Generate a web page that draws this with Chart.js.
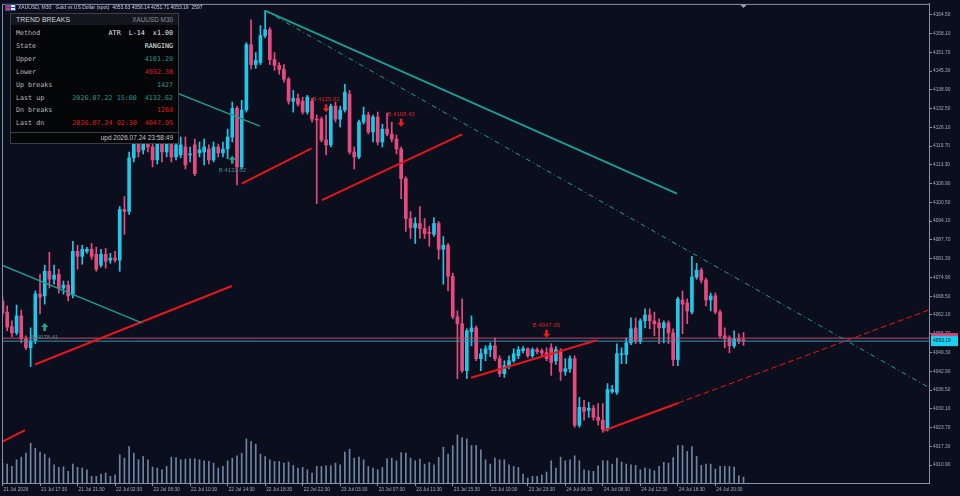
<!DOCTYPE html>
<html>
<head>
<meta charset="utf-8">
<script src="https://cdn.jsdelivr.net/npm/chart.js@4.4.1/dist/chart.umd.min.js"></script>
<style>
html, body { margin: 0; padding: 0; background: #0b0f1d; }
#wrap { position: relative; width: 960px; height: 496px; overflow: hidden; }
canvas { display: block; }
#panel { position: absolute; left: 10px; top: 13px; width: 167px; height: 129px; background: #040507; border: 1px solid #3a3e46; font-family: 'DejaVu Sans Mono', monospace; font-size: 6.7px; color: #b3b7be; }
#panel .ttl { position: absolute; left: 0; right: 0; top: 0; height: 11px; background: #13161d; font-family: 'Liberation Sans', sans-serif; }
#panel .ttl .l { position: absolute; left: 5px; top: 1px; font-size: 6.8px; line-height: 10px; color: #d6d8dc; letter-spacing: 0.1px; }
#panel .ttl .r { position: absolute; right: 5px; top: 1px; font-size: 6.4px; line-height: 10px; color: #8d929a; }
#panel .row { position: absolute; left: 5px; right: 5px; height: 10px; line-height: 10px; white-space: pre; }
#panel .row .v { position: absolute; right: 0; top: 0; }
#panel .sep { position: absolute; left: 0; right: 0; top: 118px; height: 1px; background: #3a3e46; }
#panel .upd { position: absolute; right: 5px; top: 119px; font-family: 'Liberation Sans', sans-serif; font-size: 6.5px; line-height: 10px; color: #c3c6cc; }
.w { color: #eceef1; }
.t { color: #1f9d8e; }
.r { color: #e01c1c; }
</style>
</head>
<body>
<div id="wrap">
<canvas id="c" width="960" height="496"></canvas>
<div id="panel">
  <div class="ttl"><span class="l">TREND BREAKS</span><span class="r">XAUUSD M30</span></div>
  <div class="row" style="top:14px">Method<span class="v w">ATR  L-14  x1.00</span></div>
  <div class="row" style="top:27px">State<span class="v w">RANGING</span></div>
  <div class="row" style="top:40px">Upper<span class="v t">4101.29</span></div>
  <div class="row" style="top:53px">Lower<span class="v r">4032.38</span></div>
  <div class="row" style="top:66px">Up breaks<span class="v t">1427</span></div>
  <div class="row" style="top:79px">Last up<span class="v t">2026.07.22 15:00  4132.62</span></div>
  <div class="row" style="top:91px">Dn breaks<span class="v r">1269</span></div>
  <div class="row" style="top:104px">Last dn<span class="v r">2026.07.24 02:30  4047.05</span></div>
  <div class="sep"></div>
  <div class="upd">upd 2026.07.24 23:58:49</div>
</div>
</div>
<script>
// XAUUSD M30 candles
const opens = [
  4066.9, 4063.1, 4058.1, 4056.0, 4061.8, 4054.0, 4050.9, 4053.3, 4069.2, 4068.6,
  4077.0, 4074.3, 4076.0, 4071.3, 4072.3, 4068.9, 4083.8, 4082.1, 4083.8, 4084.5,
  4082.8, 4079.1, 4082.8, 4080.8, 4081.5, 4080.8, 4098.1, 4097.4, 4115.7, 4121.1,
  4118.4, 4122.8, 4119.4, 4115.0, 4121.1, 4117.7, 4120.4, 4116.0, 4116.7, 4119.4,
  4116.7, 4120.1, 4117.4, 4117.7, 4118.7, 4115.0, 4119.4, 4117.4, 4118.7, 4122.8,
  4132.6, 4112.6, 4132.0, 4154.3, 4147.5, 4148.2, 4157.4, 4159.4, 4149.2, 4147.2,
  4145.9, 4142.5, 4135.0, 4136.0, 4135.0, 4131.3, 4135.0, 4128.9, 4128.9, 4121.8,
  4120.1, 4133.3, 4128.9, 4132.0, 4137.4, 4117.7, 4116.0, 4127.9, 4130.3, 4124.5,
  4129.6, 4121.1, 4125.5, 4123.8, 4122.1, 4118.7, 4108.6, 4095.0, 4091.9, 4093.3,
  4091.6, 4090.3, 4089.6, 4093.3, 4084.5, 4085.9, 4075.3, 4061.5, 4059.1, 4043.1,
  4056.4, 4057.7, 4047.2, 4048.9, 4050.3, 4051.6, 4047.2, 4042.1, 4044.8, 4046.5,
  4048.2, 4049.9, 4050.6, 4048.2, 4050.3, 4049.9, 4049.2, 4050.9, 4046.5, 4049.9,
  4042.8, 4043.8, 4047.2, 4024.5, 4030.6, 4029.6, 4030.3, 4027.2, 4026.2, 4023.1,
  4036.0, 4035.7, 4048.6, 4048.6, 4052.6, 4057.7, 4053.0, 4060.1, 4062.1, 4060.1,
  4059.4, 4057.7, 4059.4, 4056.0, 4046.9, 4067.2, 4066.2, 4063.1, 4075.0, 4077.4,
  4074.0, 4067.2, 4068.6, 4063.1, 4055.0, 4054.3, 4051.6, 4054.0, 4053.63
];
const highs = [
  4068.2, 4065.2, 4060.1, 4065.5, 4063.8, 4055.0, 4057.7, 4070.3, 4076.0, 4079.1,
  4083.5, 4079.1, 4077.7, 4073.7, 4073.7, 4087.2, 4085.9, 4085.9, 4085.2, 4086.5,
  4085.2, 4084.5, 4084.8, 4083.1, 4083.8, 4099.1, 4102.5, 4117.7, 4122.8, 4123.8,
  4125.2, 4124.5, 4121.1, 4122.8, 4122.5, 4121.8, 4122.1, 4122.8, 4122.8, 4122.8,
  4119.4, 4122.1, 4121.1, 4122.1, 4120.1, 4121.1, 4120.4, 4121.1, 4125.5, 4134.7,
  4133.3, 4135.3, 4155.0, 4162.8, 4151.6, 4160.8, 4165.9, 4160.1, 4151.6, 4148.2,
  4147.5, 4143.1, 4138.7, 4137.4, 4136.4, 4137.0, 4136.0, 4130.3, 4129.6, 4130.3,
  4134.0, 4134.7, 4133.3, 4140.8, 4138.7, 4119.4, 4128.6, 4133.0, 4131.3, 4130.3,
  4131.3, 4127.2, 4131.0, 4127.9, 4123.5, 4119.4, 4109.2, 4097.4, 4095.3, 4099.1,
  4095.0, 4092.3, 4095.3, 4094.0, 4088.9, 4086.5, 4076.4, 4063.5, 4067.6, 4057.4,
  4061.8, 4058.4, 4050.6, 4051.6, 4052.6, 4054.3, 4048.2, 4046.5, 4048.2, 4050.6,
  4051.3, 4051.3, 4050.9, 4050.9, 4050.9, 4050.6, 4050.9, 4052.3, 4051.3, 4050.6,
  4047.2, 4048.2, 4048.2, 4034.0, 4033.0, 4032.3, 4031.3, 4031.9, 4031.9, 4038.7,
  4038.1, 4052.3, 4050.9, 4054.3, 4061.1, 4061.1, 4060.8, 4064.2, 4064.2, 4063.1,
  4060.8, 4060.1, 4060.1, 4057.4, 4068.2, 4070.3, 4067.6, 4082.1, 4079.7, 4078.1,
  4074.7, 4069.6, 4069.6, 4063.8, 4057.7, 4055.0, 4056.7, 4055.7, 4056.14
];
const lows = [
  4061.8, 4056.7, 4054.7, 4055.3, 4052.6, 4050.3, 4044.5, 4052.3, 4062.5, 4065.8,
  4071.3, 4072.6, 4069.6, 4069.2, 4066.9, 4067.9, 4077.7, 4079.4, 4083.1, 4081.1,
  4077.0, 4078.4, 4078.1, 4079.7, 4080.1, 4077.0, 4089.6, 4096.4, 4114.3, 4116.0,
  4117.0, 4117.7, 4112.6, 4113.6, 4114.3, 4116.0, 4114.3, 4115.0, 4115.7, 4111.9,
  4114.3, 4109.6, 4116.0, 4113.3, 4113.6, 4114.3, 4116.0, 4116.0, 4115.4, 4121.1,
  4106.5, 4111.9, 4131.3, 4145.9, 4146.2, 4147.5, 4156.7, 4147.5, 4145.5, 4144.2,
  4141.5, 4134.0, 4131.3, 4133.3, 4130.6, 4130.6, 4127.9, 4100.1, 4121.1, 4116.7,
  4119.4, 4127.9, 4126.2, 4131.3, 4117.0, 4111.9, 4115.4, 4127.2, 4123.8, 4121.1,
  4120.1, 4119.4, 4123.2, 4121.1, 4117.0, 4101.8, 4090.6, 4088.2, 4086.5, 4088.2,
  4088.2, 4085.5, 4088.9, 4081.1, 4072.6, 4070.3, 4060.8, 4040.4, 4042.5, 4040.4,
  4051.6, 4046.5, 4043.1, 4046.5, 4047.9, 4046.5, 4041.1, 4040.8, 4043.8, 4045.9,
  4047.2, 4049.2, 4047.6, 4047.6, 4048.9, 4048.2, 4046.5, 4041.5, 4045.2, 4039.8,
  4041.5, 4042.5, 4023.8, 4023.8, 4026.2, 4027.2, 4026.2, 4024.5, 4022.1, 4022.5,
  4035.4, 4035.0, 4045.5, 4045.5, 4052.0, 4052.3, 4052.3, 4057.7, 4057.4, 4055.0,
  4052.3, 4052.6, 4052.3, 4044.8, 4044.8, 4055.7, 4059.1, 4062.5, 4074.3, 4073.0,
  4065.2, 4063.5, 4062.5, 4054.3, 4050.9, 4049.2, 4050.9, 4052.3, 4051.71
];
const closes = [
  4062.8, 4058.0, 4056.0, 4061.8, 4054.0, 4051.0, 4053.3, 4069.3, 4068.2, 4077.0,
  4074.3, 4075.7, 4071.3, 4072.3, 4068.6, 4083.8, 4082.1, 4084.5, 4084.5, 4082.1,
  4077.7, 4082.8, 4080.4, 4081.5, 4080.8, 4098.1, 4097.4, 4115.7, 4121.1, 4117.7,
  4122.8, 4119.4, 4115.0, 4121.1, 4117.7, 4120.4, 4116.0, 4120.1, 4120.1, 4113.3,
  4117.0, 4110.3, 4118.4, 4119.4, 4115.0, 4119.4, 4117.4, 4118.7, 4122.8, 4132.6,
  4112.6, 4132.0, 4154.3, 4147.5, 4148.9, 4157.4, 4159.4, 4149.2, 4147.2, 4145.9,
  4142.5, 4135.0, 4136.0, 4134.0, 4131.3, 4136.4, 4128.9, 4128.6, 4121.8, 4120.1,
  4133.3, 4128.9, 4132.0, 4138.1, 4117.7, 4116.0, 4127.9, 4130.3, 4124.5, 4129.6,
  4121.1, 4125.5, 4123.8, 4122.1, 4118.7, 4108.6, 4095.0, 4091.9, 4093.3, 4091.6,
  4089.9, 4089.9, 4093.3, 4084.5, 4085.9, 4075.3, 4061.5, 4059.1, 4043.1, 4056.7,
  4057.7, 4047.2, 4048.9, 4050.6, 4051.6, 4047.2, 4042.1, 4044.8, 4046.5, 4048.9,
  4050.3, 4050.6, 4048.2, 4050.3, 4049.6, 4049.2, 4047.2, 4045.9, 4050.3, 4042.8,
  4043.8, 4047.2, 4024.5, 4030.6, 4029.2, 4030.3, 4027.2, 4026.2, 4023.1, 4036.7,
  4036.7, 4048.9, 4048.9, 4052.6, 4057.4, 4053.0, 4060.1, 4062.1, 4060.1, 4059.1,
  4057.7, 4059.4, 4056.0, 4046.9, 4067.6, 4065.8, 4063.5, 4075.0, 4077.4, 4074.0,
  4067.2, 4068.6, 4063.1, 4055.0, 4054.0, 4051.6, 4054.0, 4053.3, 4053.19
];
const volumes = [
  8640, 8208, 7200, 10080, 11232, 12960, 17280, 15120, 13392, 12528,
  10800, 7920, 6768, 7056, 5040, 8208, 6768, 6480, 5760, 2880,
  2880, 3888, 4320, 2880, 3600, 12240, 10800, 15840, 12960, 10080,
  11520, 10080, 6912, 6480, 5760, 7200, 11232, 11088, 10080, 10368,
  10512, 10512, 10080, 9648, 9360, 8640, 6480, 7200, 9648, 10800,
  11808, 12960, 19152, 18000, 16848, 12528, 11520, 10080, 9360, 9360,
  8640, 9072, 7632, 6480, 6768, 5760, 4320, 7200, 7200, 7488,
  7488, 8640, 7920, 13392, 14688, 10800, 11232, 10080, 7200, 6480,
  5760, 6768, 10512, 10800, 9648, 13248, 12960, 10800, 9648, 10368,
  8208, 8928, 7920, 11088, 15552, 12528, 16272, 20880, 19728, 19152,
  16272, 16272, 14400, 10080, 8208, 10800, 10080, 10080, 7920, 7200,
  6768, 3888, 2160, 2880, 2880, 3600, 4752, 9648, 6480, 11232,
  9648, 10080, 11808, 9648, 5760, 5328, 5040, 7488, 9648, 9648,
  8208, 10800, 9072, 8208, 7920, 7632, 5760, 6480, 6048, 5328,
  7200, 8928, 8640, 11088, 16272, 16272, 13680, 15840, 11520, 7632,
  8208, 8208, 6048, 7200, 7200, 7200, 6912, 3168, 2597
];

// time axis: one label every 8 bars
const timeTickIdx = [0, 8, 16, 24, 32, 40, 48, 56, 64, 72, 80, 88, 96, 104, 112, 120, 128, 136, 144, 152];
const timeLabels = ['21 Jul 2026', '21 Jul 17:30', '21 Jul 21:30', '22 Jul 02:30', '22 Jul 06:30', '22 Jul 10:30',
  '22 Jul 14:30', '22 Jul 18:30', '22 Jul 22:30', '23 Jul 03:30', '23 Jul 07:30', '23 Jul 11:30',
  '23 Jul 15:30', '23 Jul 19:30', '23 Jul 23:30', '24 Jul 04:30', '24 Jul 08:30', '24 Jul 12:30',
  '24 Jul 16:30', '24 Jul 20:30'];
const priceTicks = [4010.90, 4017.30, 4023.70, 4030.10, 4036.50, 4042.90, 4049.30, 4055.70, 4062.10,
  4068.50, 4074.90, 4081.30, 4087.70, 4094.10, 4100.50, 4106.90, 4113.30, 4119.70, 4126.10,
  4132.50, 4138.90, 4145.30, 4151.70, 4158.10, 4164.50];

// trend lines as [barIndex, price] pairs
const tealUpper = [[56.0, 4165.9], [143.8, 4103.5]];
const tealUpperDash = [[56.0, 4165.9], [197.5, 4037.4]];
const tealOldA = [[-0.1, 4079.1], [29.7, 4059.4]];
const tealOldB = [[20.0, 4148.7], [54.9, 4126.5]];
const redLines = [
  [[6.9, 4045.2], [48.9, 4072.0]],
  [[51.0, 4106.9], [65.9, 4118.9]],
  [[68.1, 4101.3], [98.0, 4123.7]],
  [[99.9, 4040.7], [126.7, 4053.5]],
  [[128.1, 4022.6], [144.1, 4032.1]],
  [[-0.1, 4018.8], [4.8, 4022.8]]
];
const redDash = [[144.1, 4032.1], [197.5, 4063.8]];
const askPrice = 4054.2;
const bidPrice = 4053.19;

// break markers
const breakIdx = [9, 49, 69, 85, 116];
const breakAt = [4058.0, 4115.0, 4132.6, 4127.7, 4055.7];
const breakText = ['B 4078.41', 'B 4132.62', 'B 4125.02', 'B 4108.43', 'B 4047.05'];
const breakUp = [true, true, false, false, false];

const BULL = '#1ec8e8';
const BEAR = '#e84a80';
const TEAL = '#1b9c93';
const RED = '#e5161d';
const AXIS = '#8893a6';
const TXT = '#a2abbb';
const VOL = '#6f84a3';

const N = opens.length;
const X_MIN = -0.107, X_MAX = 197.55;
const colors = opens.map((o, i) => closes[i] >= o ? BULL : BEAR);

function lineDs(pts, color, width, dash) {
  return {
    type: 'line',
    data: pts.map(p => ({ x: p[0], y: p[1] })),
    borderColor: color, borderWidth: width, borderDash: dash || [],
    pointRadius: 0, fill: false, tension: 0, order: 0
  };
}

const datasets = [
  {
    label: 'volume', yAxisID: 'yv', grouped: false, order: 4,
    data: volumes.map((v, i) => ({ x: i, y: v })),
    backgroundColor: VOL, barThickness: 1, borderWidth: 0
  },
  {
    label: 'wicks', grouped: false, order: 3,
    data: opens.map((o, i) => ({ x: i, y: [lows[i], highs[i]] })),
    backgroundColor: colors, barThickness: 1, borderWidth: 0
  },
  {
    label: 'bodies', grouped: false, order: 2, minBarLength: 1,
    data: opens.map((o, i) => ({ x: i, y: [Math.min(o, closes[i]), Math.max(o, closes[i])] })),
    backgroundColor: colors, barThickness: 3, borderWidth: 0
  },
  lineDs(tealUpper, TEAL, 2),
  lineDs(tealUpperDash, TEAL, 1, [5, 3, 1, 3]),
  lineDs(tealOldA, TEAL, 1.5),
  lineDs(tealOldB, TEAL, 1.5),
  ...redLines.map(l => lineDs(l, RED, 2)),
  lineDs(redDash, RED, 1, [6, 3]),
  lineDs([[X_MIN, askPrice], [X_MAX, askPrice]], '#c8486e', 1),
  lineDs([[X_MIN, bidPrice], [X_MAX, bidPrice]], '#2a9ab0', 1)
];

const overlay = {
  id: 'overlay',
  afterDatasetsDraw(chart) {
    const { ctx, chartArea: a, scales: { x, y } } = chart;
    ctx.save();
    // left and top frame
    ctx.strokeStyle = AXIS;
    ctx.lineWidth = 1;
    ctx.beginPath();
    ctx.moveTo(a.left + 0.5, a.bottom);
    ctx.lineTo(a.left + 0.5, a.top + 0.5);
    ctx.lineTo(a.right, a.top + 0.5);
    ctx.stroke();

    // break arrows and their labels
    ctx.font = '6px "Liberation Sans"';
    ctx.textAlign = 'center';
    ctx.textBaseline = 'middle';
    breakIdx.forEach((bi, k) => {
      const px = x.getPixelForValue(bi);
      const py = y.getPixelForValue(breakAt[k]);
      const s = breakUp[k] ? -1 : 1;
      ctx.fillStyle = breakUp[k] ? '#1fa394' : '#f01c1c';
      ctx.beginPath();
      ctx.moveTo(px, py + 4 * s);
      ctx.lineTo(px + 3.6, py);
      ctx.lineTo(px + 1.3, py);
      ctx.lineTo(px + 1.3, py - 4 * s);
      ctx.lineTo(px - 1.3, py - 4 * s);
      ctx.lineTo(px - 1.3, py);
      ctx.lineTo(px - 3.6, py);
      ctx.closePath();
      ctx.fill();
      ctx.fillStyle = breakUp[k] ? '#3a8e8a' : '#e52222';
      ctx.fillText(breakText[k], px, breakUp[k] ? py + 10 : py - 8.5);
    });

    // current bar marker on top edge
    const lx = x.getPixelForValue(N - 1);
    ctx.fillStyle = '#9aa3b3';
    ctx.beginPath();
    ctx.moveTo(lx - 3, a.top + 1);
    ctx.lineTo(lx + 3, a.top + 1);
    ctx.lineTo(lx, a.top + 4);
    ctx.closePath();
    ctx.fill();
    ctx.restore();
  },
  afterDraw(chart) {
    const { ctx, chartArea: a, scales: { y } } = chart;
    ctx.save();
    // price tags on the right axis
    const ay = y.getPixelForValue(askPrice);
    const by = y.getPixelForValue(bidPrice);
    ctx.fillStyle = '#d0487a';
    ctx.fillRect(a.right + 2, ay - 5, 27, 9);
    ctx.fillStyle = '#19d0ee';
    ctx.fillRect(a.right + 2, by - 5, 27, 10);
    ctx.fillStyle = '#0a1020';
    ctx.font = '4.9px "Liberation Sans"';
    ctx.textAlign = 'left';
    ctx.textBaseline = 'middle';
    ctx.fillText(bidPrice.toFixed(2), a.right + 4, by);

    // header line
    ctx.fillStyle = '#2a4fa8';
    ctx.fillRect(5, 4, 11, 7);
    ctx.fillStyle = '#d8344a';
    ctx.fillRect(6, 5, 4, 2);
    ctx.fillRect(6, 8, 4, 2);
    ctx.fillStyle = '#e6e6e6';
    ctx.fillRect(11, 5, 4, 2);
    ctx.fillRect(11, 8, 4, 2);
    ctx.fillStyle = '#c9ccd2';
    ctx.font = '5px "Liberation Sans"';
    ctx.fillText('XAUUSD, M30:  Gold vs US Dollar (spot)  ' + opens[N - 1].toFixed(2) + ' ' +
      highs[N - 1].toFixed(2) + ' ' + lows[N - 1].toFixed(2) + ' ' + closes[N - 1].toFixed(2) + '  ' +
      volumes[N - 1], 18, 7.5);
    ctx.restore();
  }
};

Chart.defaults.font.family = '"Liberation Sans", sans-serif';

new Chart(document.getElementById('c'), {
  type: 'bar',
  data: { datasets },
  options: {
    responsive: false,
    animation: false,
    events: [],
    layout: { padding: { left: 2, top: 1, right: 0, bottom: 0 } },
    plugins: { legend: { display: false }, tooltip: { enabled: false } },
    scales: {
      x: {
        type: 'linear', min: X_MIN, max: X_MAX, offset: false,
        grid: { display: true, drawOnChartArea: false, drawTicks: true, tickLength: 3, color: AXIS, offset: false },
        border: { color: AXIS },
        ticks: {
          color: TXT, font: { size: 4.8 }, padding: 0.5, align: 'start', labelOffset: 1,
          maxRotation: 0, minRotation: 0, autoSkip: false,
          callback: (v, i) => timeLabels[i]
        },
        afterBuildTicks: s => { s.ticks = timeTickIdx.map(v => ({ value: v })); },
        afterFit: s => { s.height = 13; }
      },
      y: {
        type: 'linear', position: 'right', min: 4004.8, max: 4168.2,
        grid: { display: true, drawOnChartArea: false, drawTicks: true, tickLength: 3, color: AXIS },
        border: { color: AXIS },
        ticks: { color: TXT, font: { size: 4.8 }, padding: 1, callback: v => v.toFixed(2) },
        afterBuildTicks: s => { s.ticks = priceTicks.map(v => ({ value: v })); },
        afterFit: s => { s.width = 31; }
      },
      yv: { display: false, min: 0, max: 208000 }
    }
  },
  plugins: [overlay]
});
</script>
</body>
</html>
